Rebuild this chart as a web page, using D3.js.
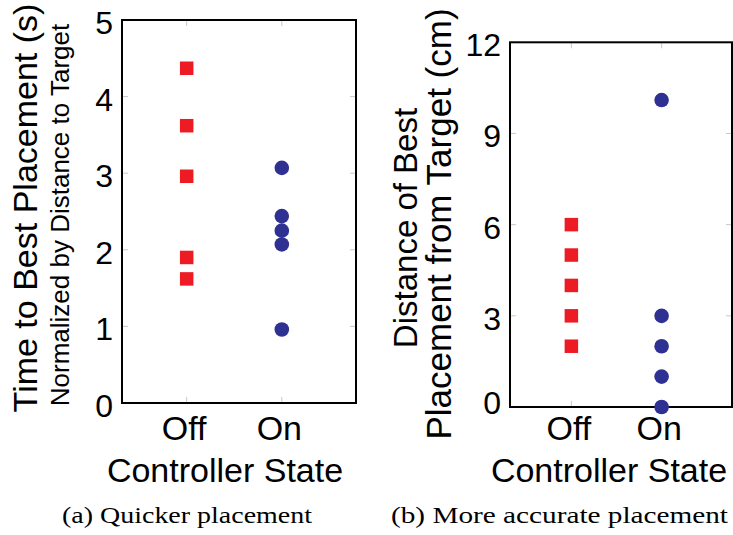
<!DOCTYPE html>
<html><head><meta charset="utf-8">
<script src="https://cdn.jsdelivr.net/npm/d3@7"></script>
<style>
  body { margin: 0; background: #fff; }
  svg { display: block; }
  text { font-family: "Liberation Sans", Arial, Helvetica, sans-serif; fill: #000; }
  .cap { font-family: "Liberation Serif", "Times New Roman", serif; }
</style>
</head><body>
<script>
// Controller state categories and per-participant results
const categories = ["Off", "On"];
const timeOff = [4.37, 3.62, 2.96, 1.90, 1.62];   // normalized time (s), controller off
const timeOn  = [3.07, 2.44, 2.25, 2.07, 0.96];   // normalized time (s), controller on
const distOff = [6, 5, 4, 3, 2];                  // distance (cm), controller off
const distOn  = [10.1, 3, 2, 1, 0];               // distance (cm), controller on
const timeTicks = [0, 1, 2, 3, 4, 5];
const distTicks = [0, 3, 6, 9, 12];

const W = 733, H = 535;
const RED = "#ed1c24", BLUE = "#2e3192";

const svg = d3.select("body").append("svg").attr("width", W).attr("height", H);

const panels = [
  { left: 122, right: 356, top: 20, bottom: 403, domain: [0, 5], ticks: timeTicks,
    off: timeOff, on: timeOn, xLabelX: 225, caption: "(a) Quicker placement", capX: 187, capW: 250 },
  { left: 510, right: 732, top: 42.3, bottom: 407, domain: [0, 12], ticks: distTicks,
    off: distOff, on: distOn, xLabelX: 609, caption: "(b) More accurate placement", capX: 559.5, capW: 337 }
];

panels.forEach((p, pi) => {
  const x = d3.scaleLinear().domain([0.32, 2.78]).range([p.left, p.right]);
  const y = d3.scaleLinear().domain(p.domain).range([p.bottom, p.top]);
  const g = svg.append("g");
  const catPos = categories.map((c, i) => i + 1);

  // light inner tick marks on all four sides
  const tickCol = "#c8c8c8";
  const inner = g.append("g").attr("stroke", tickCol).attr("stroke-width", 1);
  p.ticks.forEach(t => {
    inner.append("line").attr("x1", p.left).attr("x2", p.left + 6).attr("y1", y(t)).attr("y2", y(t));
    inner.append("line").attr("x1", p.right - 6).attr("x2", p.right).attr("y1", y(t)).attr("y2", y(t));
  });
  catPos.forEach(v => {
    inner.append("line").attr("x1", x(v)).attr("x2", x(v)).attr("y1", p.top).attr("y2", p.top + 6);
    inner.append("line").attr("x1", x(v)).attr("x2", x(v)).attr("y1", p.bottom - 6).attr("y2", p.bottom);
  });

  // y axis labels
  const yAxis = d3.axisLeft(y).tickValues(p.ticks).tickSize(0).tickPadding(9).tickFormat(d3.format("d"));
  const ya = g.append("g").attr("transform", `translate(${p.left},0)`).call(yAxis);
  ya.select(".domain").remove();
  ya.selectAll("text").attr("font-size", 32).attr("font-family", "Liberation Sans, Arial, sans-serif")
    .attr("fill", "#000").attr("dy", d => (pi === 1 && d === 0) ? "0.2em" : "0.42em");

  // x axis category labels
  const xAxis = d3.axisBottom(x).tickValues(catPos).tickSize(0).tickPadding(0).tickFormat(v => categories[v - 1]);
  const xa = g.append("g").attr("transform", `translate(0,${p.bottom})`).call(xAxis);
  xa.select(".domain").remove();
  xa.selectAll("text").attr("font-size", 34).attr("font-family", "Liberation Sans, Arial, sans-serif")
    .attr("fill", "#000").attr("y", 440 - p.bottom).attr("dy", 0).attr("dx", -3);

  // frame
  g.append("rect").attr("x", p.left).attr("y", p.top)
    .attr("width", p.right - p.left).attr("height", p.bottom - p.top)
    .attr("fill", "none").attr("stroke", "#000").attr("stroke-width", 2);

  // x title
  g.append("text").attr("x", p.xLabelX).attr("y", 482).attr("text-anchor", "middle")
    .attr("font-size", 34).text("Controller State");

  // markers
  const sq = 13.5;
  g.append("g").selectAll("rect").data(p.off).join("rect")
    .attr("x", x(1) - sq / 2).attr("y", d => y(d) - sq / 2)
    .attr("width", sq).attr("height", sq).attr("fill", RED);
  g.append("g").selectAll("circle").data(p.on).join("circle")
    .attr("cx", x(2)).attr("cy", d => y(d)).attr("r", 7.3).attr("fill", BLUE);

  // caption
  svg.append("text").attr("class", "cap").attr("x", p.capX).attr("y", 523)
    .attr("text-anchor", "middle").attr("font-size", 24)
    .attr("textLength", p.capW).attr("lengthAdjust", "spacingAndGlyphs").text(p.caption);
});

// y titles
svg.append("text").attr("transform", "translate(37,208) rotate(-90)").attr("text-anchor", "middle")
  .attr("font-size", 34).text("Time to Best Placement (s)");
svg.append("text").attr("transform", "translate(69,215) rotate(-90)").attr("text-anchor", "middle")
  .attr("font-size", 26).text("Normalized by Distance to Target");
svg.append("text").attr("transform", "translate(417,228) rotate(-90)").attr("text-anchor", "middle")
  .attr("font-size", 33).text("Distance of Best");
svg.append("text").attr("transform", "translate(451,224) rotate(-90)").attr("text-anchor", "middle")
  .attr("font-size", 35).text("Placement from Target (cm)");
</script>
</body></html>
